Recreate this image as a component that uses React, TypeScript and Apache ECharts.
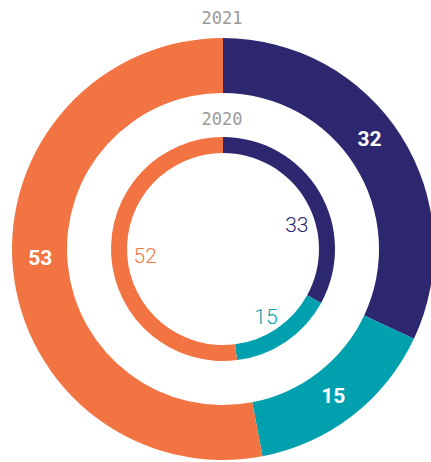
import React, { useEffect, useRef } from "react";
import * as echarts from "echarts";

const categories = ["Navy", "Teal", "Orange"];
const values2021 = [32, 15, 53];
const values2020 = [33, 15, 52];
const colors = ["#2d276f", "#00a0af", "#f37443"];
const years = ["2021", "2020"];

// label nudges (styling only)
const outerLabelOffsets = [[-11, -10], [-4, 0], [3, -9]];
const innerLabelOffsets = [[5, 17], [-2, 2], [2, 2]];

export default function App() {
  const ref = useRef<HTMLDivElement>(null);
  useEffect(() => {
    if (!ref.current) return;
    const chart = echarts.init(ref.current, null, { renderer: "svg" });
    const cx = 223;
    const cy = 249;
    chart.setOption({
      animation: false,
      graphic: [
        {
          type: "text",
          x: 222,
          y: 9,
          style: { text: years[0], fill: "#9a9a9a", font: "17px 'DejaVu Sans Mono'", textAlign: "center" },
        },
        {
          type: "text",
          x: 222,
          y: 110,
          style: { text: years[1], fill: "#9a9a9a", font: "17px 'DejaVu Sans Mono'", textAlign: "center" },
        },
      ],
      series: [
        {
          type: "pie",
          center: [cx, cy],
          radius: [156, 211],
          startAngle: 90,
          clockwise: true,
          avoidLabelOverlap: false,
          silent: true,
          data: values2021.map((v, i) => ({
            name: categories[i],
            value: v,
            itemStyle: { color: colors[i] },
            label: { offset: outerLabelOffsets[i] },
          })),
          label: {
            show: true,
            position: "inside",
            formatter: "{c}",
            color: "#ffffff",
            fontFamily: "Roboto",
            fontWeight: "bold",
            fontSize: 21,
          },
          labelLine: { show: false },
        },
        {
          type: "pie",
          center: [cx, cy],
          radius: [96, 112],
          startAngle: 90,
          clockwise: true,
          silent: true,
          data: values2020.map((v, i) => ({
            name: categories[i],
            value: v,
            itemStyle: { color: colors[i] },
          })),
          label: { show: false },
          labelLine: { show: false },
        },
        {
          type: "pie",
          center: [cx, cy],
          radius: [0, 154],
          startAngle: 90,
          clockwise: true,
          silent: true,
          avoidLabelOverlap: false,
          data: values2020.map((v, i) => ({
            name: categories[i],
            value: v,
            itemStyle: { color: "rgba(0,0,0,0)" },
            label: { color: colors[i], offset: innerLabelOffsets[i] },
          })),
          label: {
            show: true,
            position: "inside",
            formatter: "{c}",
            fontFamily: "Roboto",
            fontWeight: 300,
            fontSize: 21,
          },
          labelLine: { show: false },
        },
      ],
    });
    return () => chart.dispose();
  }, []);
  return (
    <div
      ref={ref}
      style={{ position: "absolute", left: 0, top: 0, width: 431, height: 462 }}
    />
  );
}
